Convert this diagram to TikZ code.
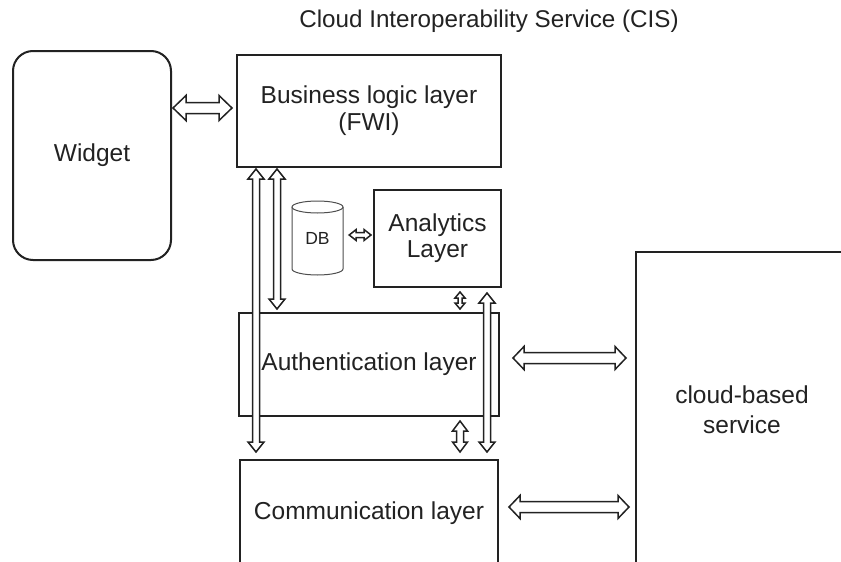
\documentclass[tikz,border=0pt]{standalone}
\usepackage{fontspec}
\setmainfont{Liberation Sans}
\usetikzlibrary{calc}
\definecolor{ink}{HTML}{222222}
\tikzset{
  box/.style={draw=ink, line width=2pt, inner sep=0pt, align=center, text=ink,
    font=\fontsize{24.5}{27}\selectfont},
  harr/.style={draw=ink, line width=1.5pt, fill=white, line join=miter},
  dbline/.style={draw=ink!80, line width=1pt, fill=white},
}
\newcommand\harrow[5]{%
  \draw[harr] let \p1=(#1), \p2=(#2),
    \n1={atan2(\y2-\y1,\x2-\x1)}, \n2={veclen(\x2-\x1,\y2-\y1)},
    \n3={\n2-#5pt}, \n4={\n1+90}, \n5={\n1-90} in
    (\p1) -- ($(\p1)+(\n1:#5pt)+(\n4:#4pt)$) -- ($(\p1)+(\n1:#5pt)+(\n4:#3pt)$)
    -- ($(\p1)+(\n1:\n3)+(\n4:#3pt)$) -- ($(\p1)+(\n1:\n3)+(\n4:#4pt)$)
    -- (\p2) -- ($(\p1)+(\n1:\n3)+(\n5:#4pt)$) -- ($(\p1)+(\n1:\n3)+(\n5:#3pt)$)
    -- ($(\p1)+(\n1:#5pt)+(\n5:#3pt)$) -- ($(\p1)+(\n1:#5pt)+(\n5:#4pt)$) -- cycle;}
\begin{document}
\begin{tikzpicture}[x=1pt, y=-1pt]
\clip (0,0) rectangle (841,562);
\fill[white] (0,0) rectangle (841,562);

\node[text=ink, font=\fontsize{24.2}{27}\selectfont] (title) at (489,21) {Cloud Interoperability Service (CIS)};

\node[box, rounded corners=20pt, minimum width=158pt, minimum height=209pt] (widget) at (92,155.5) {Widget};
\node[box, minimum width=264pt, minimum height=112pt] (bl) at (369,111) {Business logic layer\\(FWI)};
\node[box, minimum width=127pt, minimum height=97pt] (an) at (437.5,238.5) {Analytics\\[-1pt]Layer};
\node[box, minimum width=260pt, minimum height=103pt] (auth) at (369,364.5) {Authentication layer};
\node[box, minimum width=258pt, minimum height=106pt] (comm) at (369,513) {Communication layer};
\node[box, minimum width=212pt, minimum height=316pt] (cloud) at (742,410) {\raisebox{3pt}{cloud-based}\\service};

% DB cylinder
\draw[dbline] (292,207) -- (292,269) arc[start angle=180, end angle=360, x radius=25.5pt, y radius=6pt] -- (343,207);
\draw[dbline] (317.5,207) ellipse[x radius=25.5pt, y radius=6pt];
\node[inner sep=0pt, minimum width=51pt, minimum height=74pt, text=ink, font=\fontsize{17.5}{19}\selectfont] (db) at (317.5,238) {\raisebox{-4pt}{DB}};

% arrow end points
\coordinate (a1s) at ($(widget.east |- bl.west)+(1,-3)$);
\coordinate (a1e) at ($(bl.west)+(-4,-3)$);
\coordinate (a2s) at ($(bl.south west)+(20,1)$);
\coordinate (a2e) at ($(comm.north west)+(17,-7)$);
\coordinate (a3s) at ($(bl.south west)+(41,1)$);
\coordinate (a3e) at ($(auth.north west)+(39,-3)$);
\coordinate (a4s) at ($(db.east)+(6,-3)$);
\coordinate (a4e) at ($(an.west |- db.east)+(-2,-3)$);
\coordinate (a5s) at ($(an.south)+(22.5,4)$);
\coordinate (a5e) at ($(auth.north)+(91,-3)$);
\coordinate (a6s) at ($(an.south)+(49.5,5)$);
\coordinate (a6e) at ($(comm.north)+(118,-7)$);
\coordinate (a7s) at ($(auth.south)+(91,4)$);
\coordinate (a7e) at ($(comm.north)+(91,-7)$);
\coordinate (a8s) at ($(auth.east)+(13,-6.5)$);
\coordinate (a8e) at ($(cloud.west |- auth.east)+(-9,-6.5)$);
\coordinate (a9s) at ($(comm.east)+(10,-6)$);
\coordinate (a9e) at ($(cloud.west |- comm.east)+(-6,-6)$);

\harrow{a1s}{a1e}{5.5}{12.5}{13}
\harrow{a2s}{a2e}{3.5}{8}{10}
\harrow{a3s}{a3e}{3.5}{8}{10}
\harrow{a4s}{a4e}{2.5}{5.5}{7}
\harrow{a5s}{a5e}{2}{5}{6}
\harrow{a6s}{a6e}{3.5}{8}{10}
\harrow{a7s}{a7e}{3.5}{7.5}{10}
\harrow{a8s}{a8e}{5.5}{11.5}{11}
\harrow{a9s}{a9e}{5.5}{11.5}{11}
\end{tikzpicture}
\end{document}
